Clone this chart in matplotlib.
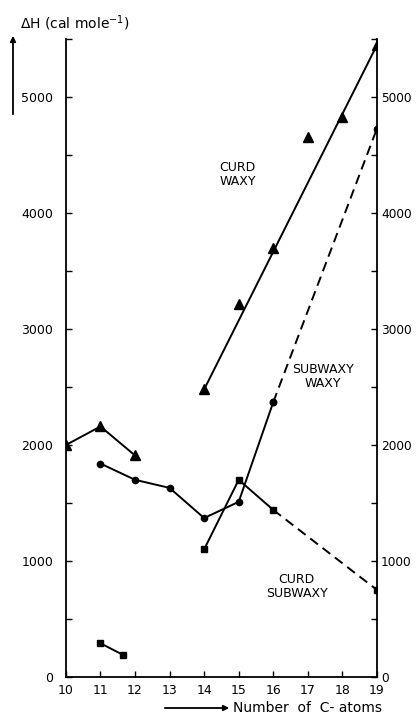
import matplotlib
matplotlib.use("Agg")
import matplotlib.pyplot as plt

# values
tri_x = [10, 11, 12]
tri_y = [2000, 2160, 1910]

circ_x = [11, 12, 13, 14, 15, 16]
circ_y = [1840, 1700, 1630, 1370, 1510, 2370]
circ_ext_x = [16, 19]
circ_ext_y = [2370, 4730]

sq_x = [14, 15, 16]
sq_y = [1100, 1700, 1440]
sq_ext_x = [16, 19]
sq_ext_y = [1440, 750]

sq_low_x = [11, 11.65]
sq_low_y = [290, 190]

big_x = [14, 15, 16, 17, 18, 19]
big_y = [2480, 3220, 3700, 4660, 4830, 5450]
fit_x = [14, 19]
fit_y = [2480, 5450]

xticks = list(range(10, 20))
yticks = [0, 1000, 2000, 3000, 4000, 5000]

plt.rcParams['font.family'] = ['DejaVu Sans']
fig = plt.figure(figsize=(4.17, 7.14), dpi=100)
ax = fig.add_axes([0.158, 0.052, 0.746, 0.893])

k = 'black'
ax.plot(tri_x, tri_y, '-^', color=k, lw=1.4, ms=7)
ax.plot(circ_x, circ_y, '-o', color=k, lw=1.4, ms=4.5)
ax.plot(circ_ext_x, circ_ext_y, '--o', color=k, lw=1.4, ms=4.5, dashes=(5, 3))
ax.plot(sq_x, sq_y, '-s', color=k, lw=1.4, ms=5)
ax.plot(sq_ext_x, sq_ext_y, '--', color=k, lw=1.4, dashes=(5, 3))
ax.plot(sq_ext_x[-1:], sq_ext_y[-1:], 's', color=k, ms=4)
ax.plot(sq_low_x, sq_low_y, '-s', color=k, lw=1.4, ms=5)
ax.plot(big_x, big_y, '^', color=k, ms=7)
ax.plot(fit_x, fit_y, '-', color=k, lw=1.4)

ax.text(14.97, 4330, 'CURD\nWAXY', ha='center', va='center', fontsize=9, linespacing=1.1)
ax.text(17.43, 2590, 'SUBWAXY\nWAXY', ha='center', va='center', fontsize=9, linespacing=1.1)
ax.text(16.68, 776, 'CURD\nSUBWAXY', ha='center', va='center', fontsize=9, linespacing=1.1)

ax.set_xlim(10, 19)
ax.set_ylim(0, 5500)
ax.set_xticks(xticks)
ax.set_yticks(yticks)
ax.set_yticks(range(500, 5501, 1000), minor=True)
ax.spines['top'].set_visible(False)
for s in ['left', 'right', 'bottom']:
    ax.spines[s].set_linewidth(1.3)
ax.tick_params(direction='in', length=4, width=1, labelsize=9, right=True)
ax.tick_params(axis='x', pad=5)
ax.tick_params(axis='y', which='major', left=True, labelleft=True, pad=9)
ax.tick_params(which='minor', direction='in', length=4, width=1, right=True)

# right-hand scale, same limits, labels closer to the spine
ax2 = ax.twinx()
ax2.set_ylim(ax.get_ylim())
ax2.set_yticks(yticks)
ax2.set_yticks(range(500, 5501, 1000), minor=True)
ax2.tick_params(which='both', direction='in', length=4, width=1, labelsize=8.7, pad=3)
for s in ax2.spines.values():
    s.set_visible(False)

fig.text(0.048, 0.968, r'$\Delta$H (cal mole$^{-1}$)', fontsize=10, va='center')
fig.add_artist(matplotlib.patches.FancyArrowPatch((13 / 417, 1 - 117 / 714), (13 / 417, 1 - 33 / 714),
               transform=fig.transFigure, arrowstyle='-|>', mutation_scale=8, color=k, lw=1.3))
fig.add_artist(matplotlib.patches.FancyArrowPatch((162 / 417, 1 - 708 / 714), (232 / 417, 1 - 708 / 714),
               transform=fig.transFigure, arrowstyle='-|>', mutation_scale=8, color=k, lw=1.3))
fig.text(233 / 417, 1 - 708 / 714, 'Number  of  C- atoms', fontsize=10, va='center')

fig.savefig('out.png', dpi=100)
